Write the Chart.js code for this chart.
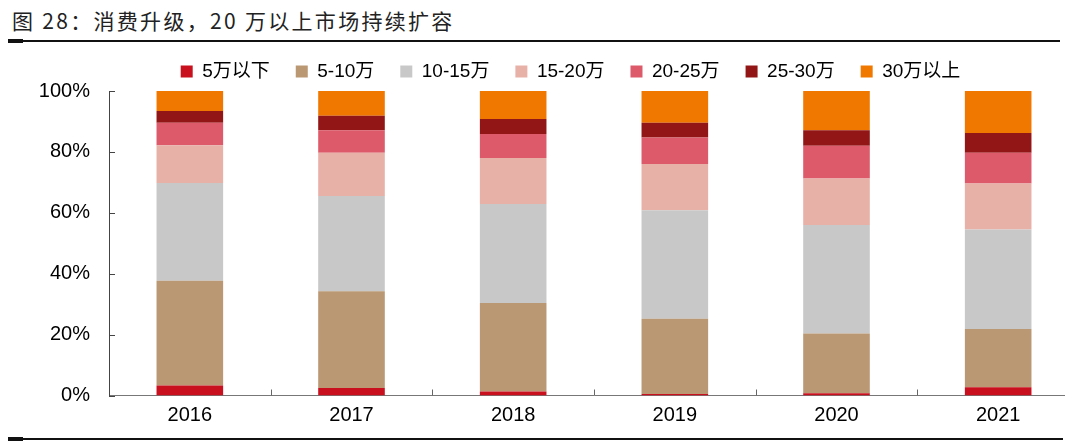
<!DOCTYPE html>
<html>
<head>
<meta charset="utf-8">
<script src="https://cdn.jsdelivr.net/npm/chart.js@4.4.1/dist/chart.umd.min.js"></script>
<style>
  html, body { margin: 0; padding: 0; background: #fff; overflow: hidden; width: 1065px; height: 442px; }
  #title {
    position: absolute; left: 12px; top: 5px;
    font-family: "Noto Sans CJK SC", "Noto Sans", sans-serif;
    font-size: 21px; letter-spacing: 2.3px; color: #222; white-space: nowrap; line-height: 30px;
  }
  #rule-top { position: absolute; left: 8px; top: 40px; width: 1052px; height: 2px; background: #111; }
  #rule-top-tab { position: absolute; left: 8px; top: 39px; width: 15px; height: 4px; background: #111; }
  #rule-bottom { position: absolute; left: 8px; top: 438px; width: 1055px; height: 2px; background: #111; }
  #rule-bottom-tab { position: absolute; left: 8px; top: 437px; width: 15px; height: 4px; background: #111; }
  #wrap { position: absolute; left: 0; top: 36px; width: 1080px; height: 401px; }
</style>
</head>
<body>
<div id="title">图 28：消费升级，20 万以上市场持续扩容</div>
<div id="rule-top"></div><div id="rule-top-tab"></div>
<div id="wrap"><canvas id="c"></canvas></div>
<div id="rule-bottom"></div><div id="rule-bottom-tab"></div>
<script>
const categories = ['2016', '2017', '2018', '2019', '2020', '2021'];
const seriesNames = ['5万以下', '5-10万', '10-15万', '15-20万', '20-25万', '25-30万', '30万以上'];
const below5 = [3.3, 2.5, 1.3, 0.5, 0.7, 2.7];
const from5to10 = [34.4, 31.7, 29.1, 24.7, 19.7, 19.1];
const from10to15 = [32.1, 31.3, 32.5, 35.6, 35.6, 32.7];
const from15to20 = [12.4, 14.2, 15.1, 15.2, 15.3, 15.1];
const from20to25 = [7.4, 7.4, 7.9, 8.7, 10.7, 10.1];
const from25to30 = [3.8, 4.8, 4.9, 4.9, 5.1, 6.5];
const above30 = [6.6, 8.1, 9.2, 10.4, 12.9, 13.8];
const yTicks = [0, 20, 40, 60, 80, 100];

const seriesValues = [below5, from5to10, from10to15, from15to20, from20to25, from25to30, above30];
const colors = ['#C8101E', '#B99873', '#C8C8C8', '#E8B1A7', '#DC5A69', '#921616', '#F07800'];

const innerTicks = {
  id: 'innerTicks',
  afterLayout(chart) {
    // let the y tick labels extend into the left padding without being clipped
    chart.scales.y.left = 0;
  },
  afterDatasetsDraw(chart) {
    const { ctx, chartArea, scales: { x, y } } = chart;
    ctx.save();
    ctx.lineWidth = 1;
    ctx.strokeStyle = '#444';
    y.ticks.forEach((t, i) => {
      const py = Math.round(y.getPixelForTick(i)) + 0.5;
      ctx.beginPath(); ctx.moveTo(chartArea.left, py); ctx.lineTo(chartArea.left + 6, py); ctx.stroke();
    });
    ctx.strokeStyle = '#666';
    for (let i = 0; i < x.ticks.length - 1; i++) {
      const px = Math.round((x.getPixelForTick(i) + x.getPixelForTick(i + 1)) / 2) + 0.5;
      ctx.beginPath(); ctx.moveTo(px, chartArea.bottom); ctx.lineTo(px, chartArea.bottom - 6); ctx.stroke();
    }
    ctx.restore();
  }
};

new Chart(document.getElementById('c'), {
  type: 'bar',
  data: {
    labels: categories,
    datasets: seriesNames.map((name, i) => ({
      label: name,
      data: seriesValues[i],
      backgroundColor: colors[i],
      borderWidth: 0,
      barPercentage: 0.412,
      categoryPercentage: 1.0
    }))
  },
  options: {
    responsive: true,
    maintainAspectRatio: false,
    animation: false,
    layout: { padding: { left: 62, right: 1, top: 0, bottom: 1.5 } },
    plugins: {
      legend: {
        position: 'top',
        labels: {
          boxWidth: 12, boxHeight: 12, padding: 26,
          color: '#000',
          font: { family: '"Liberation Sans", "Noto Sans CJK SC", sans-serif', size: 19 }
        }
      },
      title: { display: false },
      tooltip: { enabled: false }
    },
    scales: {
      x: {
        stacked: true,
        grid: { display: false, drawTicks: false },
        border: { display: true, color: '#777', width: 1 },
        ticks: { color: '#000', padding: 8, font: { family: '"Liberation Sans", Arial, sans-serif', size: 20 } }
      },
      y: {
        stacked: true,
        min: 0, max: 100,
        afterFit(scale) { scale.width = 47; },
        afterBuildTicks(scale) { scale.ticks = yTicks.map(v => ({ value: v })); },
        grid: { display: false, drawTicks: false },
        border: { display: true, color: '#444', width: 1 },
        ticks: {
          color: '#000', padding: 19,
          font: { family: '"Liberation Sans", Arial, sans-serif', size: 20 },
          callback: v => v + '%'
        }
      }
    }
  },
  plugins: [innerTicks]
});
</script>
</body>
</html>
